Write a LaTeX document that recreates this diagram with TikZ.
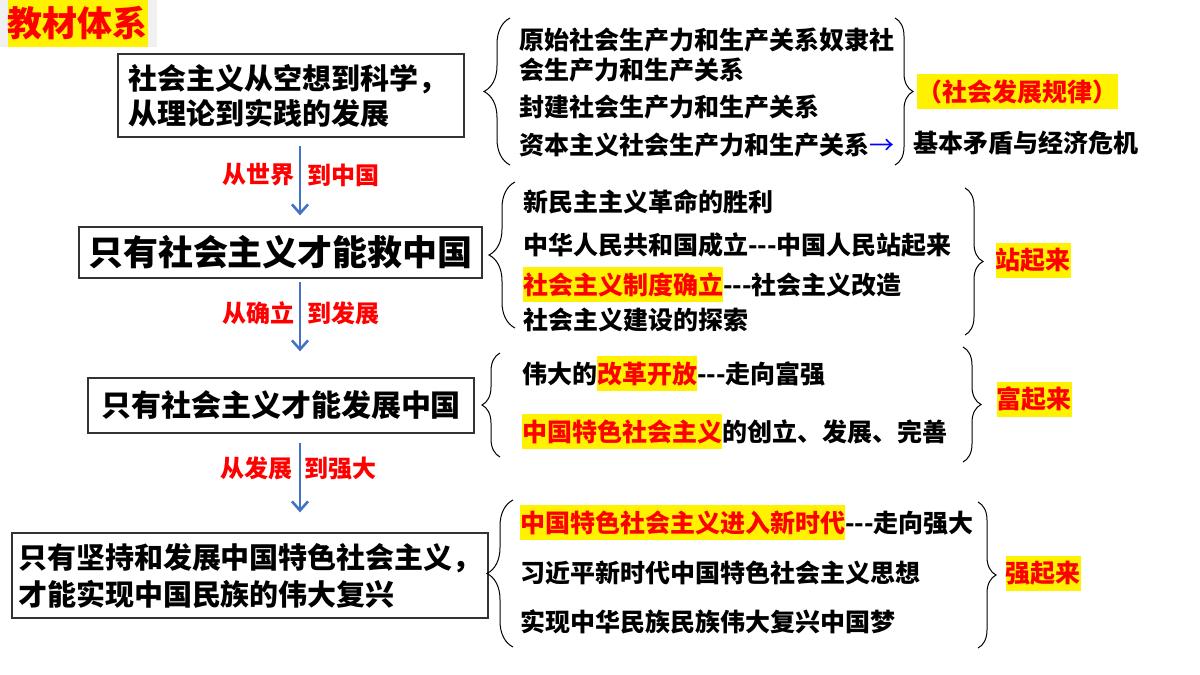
\documentclass[tikz,border=0pt]{standalone}
\usepackage{fontspec}
\setmainfont{Noto Sans CJK SC}
\usepackage{tikz}
\usetikzlibrary{positioning,calc,arrows.meta,decorations.pathreplacing}
\definecolor{arrblue}{RGB}{68,114,196}
\tikzstyle{box} = [draw=black!80, line width=1.3pt, inner sep=0pt]
\tikzstyle{item} = [anchor=base west, inner sep=0pt, font=\fontsize{25}{30}\selectfont\bfseries]
\tikzstyle{tag} = [fill=yellow, text=red, inner sep=0pt, minimum height=35pt, font=\fontsize{25}{30}\selectfont\bfseries]
\tikzstyle{lab} = [text=red, inner sep=0pt, font=\fontsize{24}{28}\selectfont\bfseries]
\tikzstyle{arr} = [draw=arrblue, line width=2.6pt, -{Straight Barb[length=9pt,width=16pt]}]
\tikzstyle{brbig} = [decorate, decoration={brace,amplitude=26pt}, line width=1pt]
\tikzstyle{brsmall} = [decorate, decoration={brace,amplitude=18pt}, line width=1pt]
\newcommand{\hl}[1]{{\setlength{\fboxsep}{0pt}\colorbox{yellow}{\rule[-7.5pt]{0pt}{35pt}\color{red}#1}}}

\begin{document}
\begin{tikzpicture}[x=1pt, y=-1pt]
\useasboundingbox (0,0) rectangle (1200,675);
\fill[black!6] (0,0) rectangle (157,47);
\node(T)[fill=yellow, text=red, inner sep=0pt, minimum width=140pt, minimum height=47pt, font=\fontsize{35}{40}\selectfont\bfseries] at (78,23.5) {教材体系};
\node(A)[box, text width=326pt, inner xsep=10pt, minimum height=83pt, align=left, font=\fontsize{29}{35}\selectfont\bfseries] at (291,95.5) {社会主义从空想到科学，\\从理论到实践的发展};
\node(B)[box, minimum width=403pt, minimum height=51pt, font=\fontsize{35}{40}\selectfont\bfseries] at (280.5,252.5) {只有社会主义才能救中国};
\node(C)[box, minimum width=386pt, minimum height=55pt, font=\fontsize{30}{36}\selectfont\bfseries] at (281,405.5) {只有社会主义才能发展中国};
\node(D)[box, text width=464pt, inner xsep=6pt, minimum height=85pt, align=left, font=\fontsize{29}{37}\selectfont\bfseries] at (250,575.5) {只有坚持和发展中国特色社会主义，\\才能实现中国民族的伟大复兴};
\coordinate(ax) at (300,0);
\draw[arr] ($(A.south -| ax)+(0,8)$) -- ($(B.north -| ax)+(0,-11)$)
	node[lab, pos=0.42, left=4pt] {从世界} node[lab, pos=0.42, right=6pt] {到中国};
\draw[arr] ($(B.south -| ax)+(0,3)$) -- ($(C.north -| ax)+(0,-26)$)
	node[lab, pos=0.45, left=4pt] {从确立} node[lab, pos=0.45, right=6pt] {到发展};
\draw[arr] ($(C.south -| ax)+(0,9)$) -- ($(D.north -| ax)+(0,-20)$)
	node[lab, pos=0.37, left=6pt] {从发展} node[lab, pos=0.37, right=3pt] {到强大};

\node(p1)[item] at (519,49.5) {原始社会生产力和生产关系奴隶社};
\node(p2)[item] at (519,79.5) {会生产力和生产关系};
\node(p3)[item] at (519,116.5) {封建社会生产力和生产关系};
\node(p4)[item] at (519,154.5) {资本主义社会生产力和生产关系{\mdseries\color{blue}→}};
\node(law)[tag, minimum width=201pt] at (1017.5,91.5) {（社会发展规律）};
\node(crisis)[item] at (913,152.5) {基本矛盾与经济危机};
\draw[brbig] (510,165) -- (510,18);
\draw[brsmall] (895,18) -- (895,165);

\node(q1)[item] at (523,211.5) {新民主主义革命的胜利};
\node(q2)[item] at (523,254.5) {中华人民共和国成立-{}-{}-中国人民站起来};
\node(q3)[item] at (523,294.5) {\hl{社会主义制度确立}-{}-{}-社会主义改造};
\node(q4)[item] at (523,329.5) {社会主义建设的探索};
\node(up1)[tag] at (1033,260.5) {站起来};
\draw[brbig] (515,328) -- (515,182);
\draw[brsmall] (965,188) -- (965,335);

\node(r1)[item] at (522,383.5) {伟大的\hl{改革开放}-{}-{}-走向富强};
\node(r2)[item] at (522,441.5) {\hl{中国特色社会主义}的创立、发展、完善};
\node(up2)[tag] at (1034,399.5) {富起来};
\draw[brsmall] (500,457) -- (500,353);
\draw[brsmall] (963,347) -- (963,462);

\node(s1)[item] at (520,532.5) {\hl{中国特色社会主义进入新时代}-{}-{}-走向强大};
\node(s2)[item] at (520,582.5) {习近平新时代中国特色社会主义思想};
\node(s3)[item] at (520,631.5) {实现中华民族民族伟大复兴中国梦};
\node(up3)[tag] at (1043,573.5) {强起来};
\draw[brbig] (513,647) -- (513,500);
\draw[brsmall] (978,502) -- (978,648);
\end{tikzpicture}
\end{document}
